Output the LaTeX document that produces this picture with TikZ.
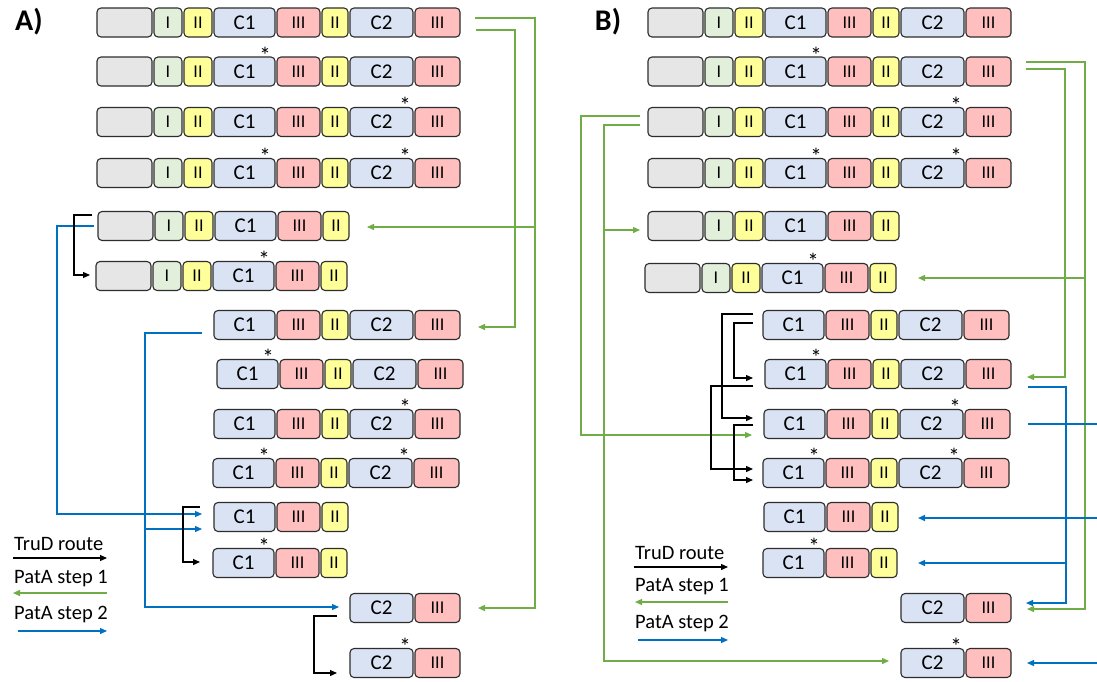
\documentclass[tikz,border=0pt]{standalone}
\usepackage{fontspec}
\setmainfont{Carlito}
\usetikzlibrary{arrows.meta,calc}
\definecolor{gcol}{RGB}{230,230,230}
\definecolor{icol}{RGB}{226,239,218}
\definecolor{ycol}{RGB}{255,255,153}
\definecolor{bcol}{RGB}{218,227,243}
\definecolor{rcol}{RGB}{255,191,191}
\definecolor{edgecol}{RGB}{45,45,45}
\definecolor{pgreen}{RGB}{112,173,71}
\definecolor{pblue}{RGB}{0,112,192}
\tikzset{
  seg/.style={draw=edgecol, line width=1.1pt, rounded corners=4pt, minimum height=29pt,
    inner sep=0pt, outer sep=0pt, font=\fontsize{21}{24}\selectfont},
  ast/.style={anchor=base, inner sep=0pt, font=\fontsize{23}{26}\selectfont},
  tip/.style={-{Triangle[length=7pt,width=6pt]}},
  gl/.style={draw=pgreen, line width=1.3pt, tip},
  bl/.style={draw=pblue, line width=1.3pt, tip},
  bln/.style={draw=pblue, line width=1.3pt},
  tl/.style={draw=black, line width=1.2pt, tip},
  lbl/.style={font=\bfseries\fontsize{30}{34}\selectfont, inner sep=0pt},
  leg/.style={anchor=base west, inner sep=0pt, font=\fontsize{20.5}{23}\selectfont}
}
\newcommand\rn[1]{{\fontsize{18}{20}\selectfont #1}}
% #1 prefix, #2 x0, #3 y, #4 first segment, #5 last segment
\newcommand\segrow[5]{%
  \foreach \ii/\xa/\xb/\col/\txt in {1/0/55/gcol/{},2/57/85/icol/{\rn{I}},3/87/115/ycol/{\rn{II}},
      4/117/178/bcol/C1,5/180/223/rcol/{\rn{III}},6/225/251/ycol/{\rn{II}},7/253/316/bcol/C2,8/318/363/rcol/{\rn{III}}}{%
    \ifnum\ii<#4\relax\else\ifnum\ii>#5\relax\else
      \node[seg, fill=\col, minimum width={\xb-\xa}] (#1-\ii) at ({#2+(\xa+\xb)/2},#3) {\txt};
    \fi\fi
  }}
\newcommand\astC[1]{\node[ast] (#1-s4) at ($(#1-4.north east)+(-10,6)$) {*};}
\newcommand\astD[1]{\node[ast] (#1-s7) at ($(#1-7.north east)+(-8,6)$) {*};}
\begin{document}
\begin{tikzpicture}[x=1pt,y=-1pt]
\useasboundingbox[fill=white] (0,0) rectangle (1097,681);
% ---------------- Panel A ----------------
\node[lbl] (labA) at (29,22) {A)};
\segrow{A1}{97}{22.5}{1}{8}
\segrow{A2}{97}{71.5}{1}{8} \astC{A2}
\segrow{A3}{97}{122}{1}{8} \astD{A3}
\segrow{A4}{97}{173}{1}{8} \astC{A4} \astD{A4}
\segrow{A5}{98}{226}{1}{6}
\segrow{A6}{96}{276}{1}{6} \astC{A6}
\segrow{A7}{97}{325}{4}{8}
\segrow{A8}{100}{374}{4}{8} \astC{A8}
\segrow{A9}{97}{424}{4}{8} \astD{A9}
\segrow{A10}{96}{473}{4}{8} \astC{A10} \astD{A10}
\segrow{A11}{97}{517}{4}{6}
\segrow{A12}{96}{563}{4}{6} \astC{A12}
\segrow{A13}{97}{608}{7}{8}
\segrow{A14}{97}{663}{7}{8} \astD{A14}
\coordinate (vgA1) at (535,0);
\coordinate (vgA2) at (515,0);
\coordinate (vbA1) at (57,0);
\coordinate (vbA2) at (145,0);
% PatA step 1
\draw[gl] ($(A1-8.east)+(15,-4.5)$) -| (vgA1|-A13-8.east) -- ($(A13-8.east)+(18,0)$);
\draw[gl] (vgA1|-A5-6.east) ++(0,1) -- ($(A5-6.east)+(18,1)$);
\draw[gl] ($(A1-8.east)+(16,7.5)$) -| ($(vgA2|-A7-8.east)+(0,2)$) -- ($(A7-8.east)+(18,2)$);
% PatA step 2
\draw[bl] ($(A5-1.west)+(-4,0)$) -| ($(vbA1|-A11-4.west)+(0,-3)$) -- ($(A11-4.west)+(-12,-3)$);
\draw[bl] ($(A7-4.west)+(-12,8)$) -| ($(vbA2|-A13-7.west)+(0,-1)$) -- ($(A13-7.west)+(-11,-1)$);
\draw[bl] ($(vbA2|-A11-4.west)+(0,12)$) -- ($(A11-4.west)+(-12,12)$);
% TruD
\draw[tl] ($(A5-1.west)+(-6,-11)$) -| ($(A6-1.west)+(-22,-1)$) -- ($(A6-1.west)+(-6,-1)$);
\draw[tl] ($(A11-4.west)+(-14,-10)$) -| ($(A12-4.west)+(-30,-1)$) -- ($(A12-4.west)+(-13,-1)$);
\draw[tl] ($(A13-7.west)+(-13,8)$) -| ($(A14-7.west)+(-36,10)$) -- ($(A14-7.west)+(-13,10)$);
% legend A
\node[leg] (legA1) at (14,550) {TruD route};
\node[leg] (legA2) at (14,583) {PatA step 1};
\node[leg] (legA3) at (14,619) {PatA step 2};
\coordinate (lA1a) at (13,558); \coordinate (lA1b) at (107,558);
\coordinate (lA2a) at (107,593); \coordinate (lA2b) at (13,593);
\coordinate (lA3a) at (18,631); \coordinate (lA3b) at (107,631);
\draw[tl] (lA1a) -- (lA1b);
\draw[gl] (lA2a) -- (lA2b);
\draw[bl] (lA3a) -- (lA3b);
% ---------------- Panel B ----------------
\node[lbl] (labB) at (608,22) {B)};
\segrow{B1}{648}{22.5}{1}{8}
\segrow{B2}{648}{71.5}{1}{8} \astC{B2}
\segrow{B3}{648}{122}{1}{8} \astD{B3}
\segrow{B4}{648}{173}{1}{8} \astC{B4} \astD{B4}
\segrow{B5}{648}{226}{1}{6}
\segrow{B6}{645}{278}{1}{6} \astC{B6}
\segrow{B7}{646}{325}{4}{8}
\segrow{B8}{648}{374}{4}{8} \astC{B8}
\segrow{B9}{647}{424}{4}{8} \astD{B9}
\segrow{B10}{646}{473}{4}{8} \astC{B10} \astD{B10}
\segrow{B11}{647}{517}{4}{6}
\segrow{B12}{646}{563}{4}{6} \astC{B12}
\segrow{B13}{648}{608}{7}{8}
\segrow{B14}{648}{663}{7}{8} \astD{B14}
\coordinate (vgB1) at (1085,0);
\coordinate (vgB2) at (1065,0);
\coordinate (vbB1) at (1066,0);
\coordinate (vgB3) at (581,0);
\coordinate (vgB4) at (604,0);
\coordinate (edgeR) at (1097,0);
% PatA step 1
\draw[gl] ($(B2-8.east)+(15,-9.5)$) -| ($(vgB1|-B13-8.east)+(0,1)$) -- ($(B13-8.east)+(16,1)$);
\draw[gl] (vgB1|-B6-6.east) -- ($(B6-6.east)+(22,0)$);
\draw[gl] ($(B2-8.east)+(15,-2.5)$) -| ($(vgB2|-B8-8.east)+(0,3)$) -- ($(B8-8.east)+(16,3)$);
\draw[gl] ($(B3-1.west)+(-8,-6)$) -| ($(vgB3|-B9-4.west)+(0,11)$) -- ($(B9-4.west)+(-12,11)$);
\draw[gl] ($(B3-1.west)+(-8,3)$) -| ($(vgB4|-B14-7.west)+(0,-2)$) -- ($(B14-7.west)+(-12,-2)$);
\draw[gl] ($(vgB4|-B5-1.west)+(0,4)$) -- ($(B5-1.west)+(-8,4)$);
% PatA step 2
\draw[bl] ($(B8-8.east)+(17,13)$) -| ($(vbB1|-B13-8.east)+(0,-5)$) -- ($(B13-8.east)+(15,-5)$);
\draw[bl] (vbB1|-B12-6.east) -- ($(B12-6.east)+(21,0)$);
\draw[bln] ($(B9-8.east)+(18,0)$) -- (edgeR|-B9-8.east);
\draw[bl] ($(edgeR|-B11-6.east)+(0,1)$) -- ($(B11-6.east)+(20,1)$);
\draw[bl] (edgeR|-B14-8.east) -- ($(B14-8.east)+(16,0)$);
% TruD
\draw[tl] ($(B7-4.west)+(-10,-11)$) -| ($(B9-4.west)+(-42,-6)$) -- ($(B9-4.west)+(-11,-6)$);
\draw[tl] ($(B7-4.west)+(-10,-2)$) -| ($(B8-4.west)+(-31,4)$) -- ($(B8-4.west)+(-12,4)$);
\draw[tl] ($(B8-4.west)+(-12,12)$) -| ($(B10-4.west)+(-52,-4)$) -- ($(B10-4.west)+(-10,-4)$);
\draw[tl] ($(B9-4.west)+(-11,1)$) -| ($(B10-4.west)+(-29,7)$) -- ($(B10-4.west)+(-10,7)$);
% legend B
\node[leg] (legB1) at (635,559) {TruD route};
\node[leg] (legB2) at (635,591) {PatA step 1};
\node[leg] (legB3) at (635,628) {PatA step 2};
\coordinate (lB1a) at (634,567); \coordinate (lB1b) at (728,567);
\coordinate (lB2a) at (728,602); \coordinate (lB2b) at (635,602);
\coordinate (lB3a) at (638,640); \coordinate (lB3b) at (728,640);
\draw[tl] (lB1a) -- (lB1b);
\draw[gl] (lB2a) -- (lB2b);
\draw[bl] (lB3a) -- (lB3b);
\end{tikzpicture}
\end{document}
